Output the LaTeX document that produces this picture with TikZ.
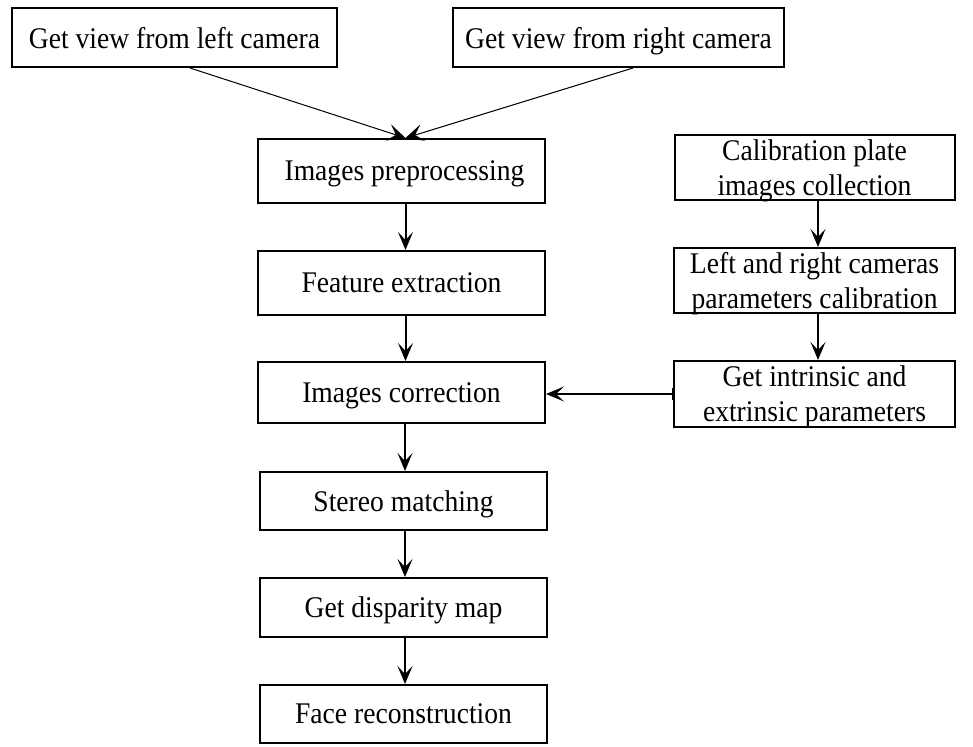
\documentclass[tikz,border=0pt]{standalone}
\usepackage{fontspec}
\setmainfont[FakeStretch=0.92]{Liberation Serif}
\usetikzlibrary{arrows.meta}
\begin{document}
\begin{tikzpicture}[x=1pt,y=-1pt,
  box/.style={draw,line width=2pt,minimum width=#1,inner sep=0pt,align=center,
    text depth=0pt,font=\fontsize{30}{35}\selectfont},
  box/.default=287pt,
  arr/.style={line width=2pt,-{Stealth[length=18pt,width=15pt,inset=8pt]}},
  thinarr/.style={line width=1pt,-{Stealth[length=18pt,width=17pt,inset=8pt]}},
  harr/.style={line width=1.5pt,-{Stealth[length=18pt,width=15pt,inset=8pt]}}]
\useasboundingbox (0,0) rectangle (973,746);
\node[box=325pt,minimum height=59pt] (left) at (174.5,37.5) {Get view from left camera};
\node[box=331pt,minimum height=59pt] (right) at (618.5,37.5) {Get view from right camera};
\node[box,minimum height=64pt] (pre) at (401.5,171) {\hspace{6pt}Images preprocessing};
\node[box,minimum height=64pt] (feat) at (401.5,283) {Feature extraction};
\node[box,minimum height=61pt] (corr) at (401.5,392.5) {Images correction};
\node[box,minimum height=58pt] (stereo) at (403.5,501) {Stereo matching};
\node[box,minimum height=59pt] (disp) at (403.5,607.5) {Get disparity map};
\node[box,minimum height=58pt] (face) at (403.5,714) {Face reconstruction};
\node[box=280pt,minimum height=65pt] (calib) at (814.5,167.5) {Calibration plate\\[0pt]images collection};
\node[box=281pt,minimum height=65pt] (lrcal) at (814.5,280.5) {Left and right cameras\\[0pt]parameters calibration};
\node[box=281pt,minimum height=66pt] (intr) at (814.5,394) {Get intrinsic and\\[0pt]extrinsic parameters};
\coordinate (tip) at ([xshift=4pt]pre.north);
\draw[thinarr] ([xshift=15.5pt]left.south) -- (tip);
\draw[thinarr] ([xshift=14.5pt]right.south) -- (tip);
\draw[arr] ([xshift=4pt]pre.south) -- ([xshift=4pt]feat.north);
\draw[arr] ([xshift=4pt]feat.south) -- ([xshift=4pt]corr.north);
\draw[arr] ([xshift=3.5pt]corr.south) -- ([xshift=1.5pt]stereo.north);
\draw[arr] ([xshift=1.5pt]stereo.south) -- ([xshift=1.5pt]disp.north);
\draw[arr] ([xshift=1.5pt]disp.south) -- ([xshift=1.5pt]face.north);
\draw[arr] ([xshift=3.5pt]calib.south) -- ([xshift=3.5pt]lrcal.north);
\draw[arr] ([xshift=3.5pt]lrcal.south) -- ([xshift=3.5pt]intr.north);
\draw[line width=2pt] ([yshift=-6pt]intr.west) -- ([yshift=6pt]intr.west);
\draw[harr] (intr.west) -- (corr.east |- intr.west);
\end{tikzpicture}
\end{document}
